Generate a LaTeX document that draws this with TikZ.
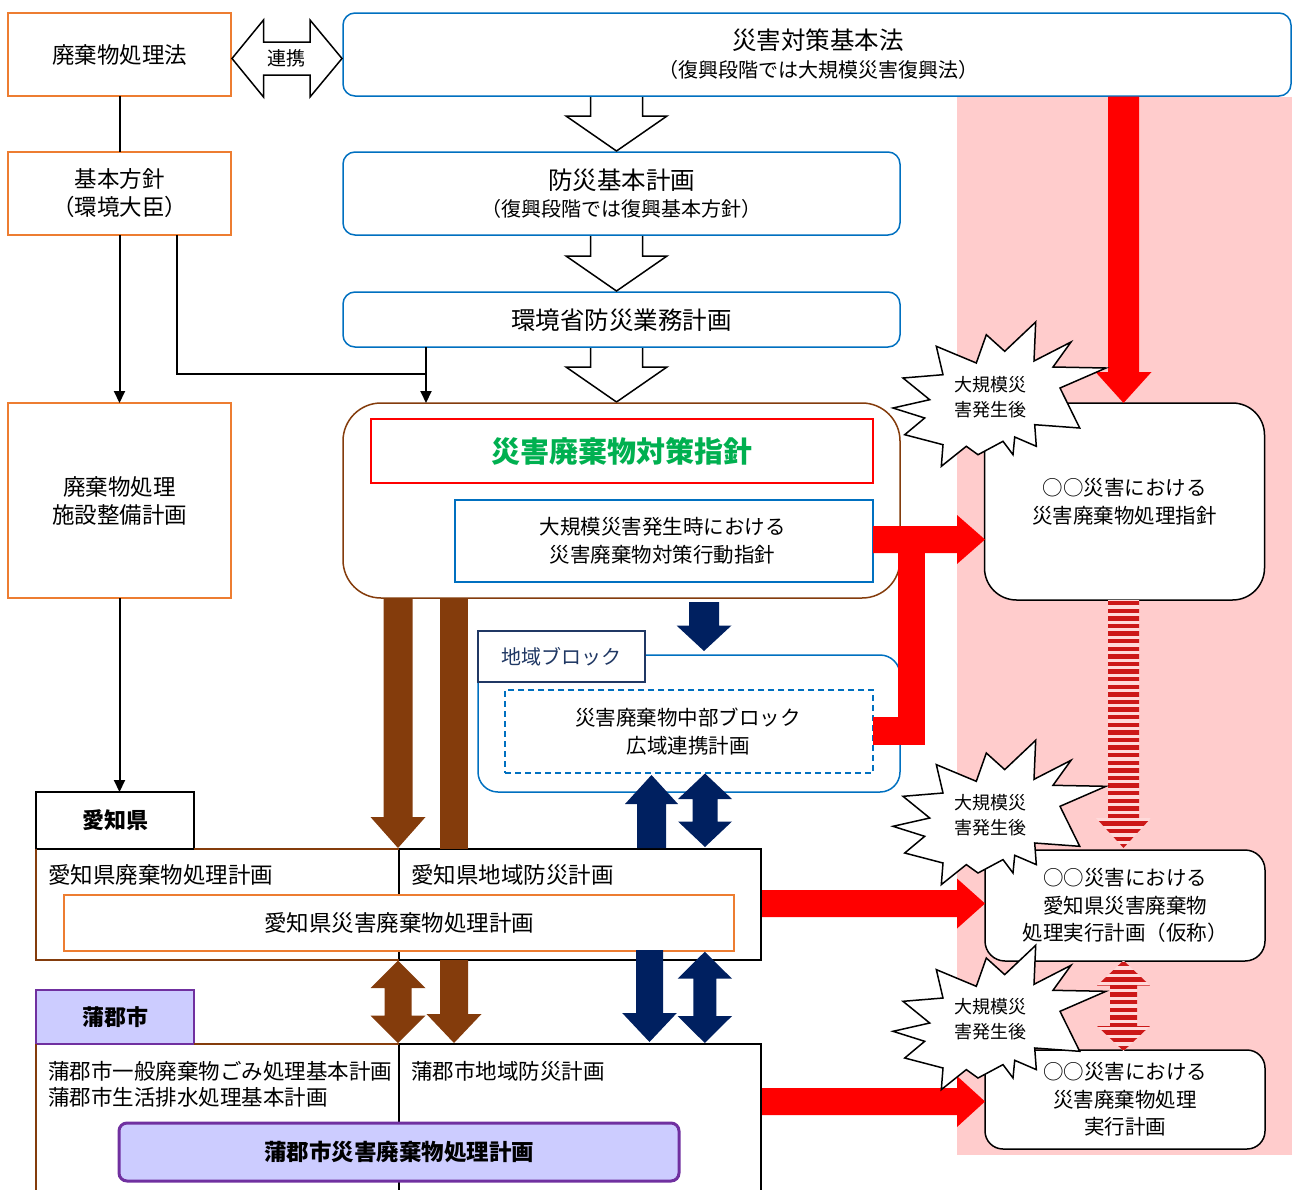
\documentclass[tikz,border=0pt]{standalone}
\usepackage{fontspec}
\setmainfont{Noto Sans CJK JP}
\usetikzlibrary{arrows.meta,calc}
\definecolor{cOrange}{HTML}{ED7D31}
\definecolor{cBlue}{HTML}{0070C0}
\definecolor{cBrown}{HTML}{843C0C}
\definecolor{cRed}{HTML}{FF0000}
\definecolor{cGreen}{HTML}{00B050}
\definecolor{cNavy}{HTML}{002060}
\definecolor{cNavyT}{HTML}{203864}
\definecolor{cPink}{HTML}{FFCCCC}
\definecolor{cLav}{HTML}{CCCCFF}
\definecolor{cPurple}{HTML}{7030A0}
\definecolor{cStripeD}{HTML}{CC1818}
\definecolor{cStripeL}{HTML}{FFDADA}
\newcommand\fsz[2]{\fontsize{#1}{#2}\selectfont}
% x, ytop, ytip, shaft half, head half, head length
\newcommand\ArrDn[6]{({#1-#4},{#2}) -- ({#1+#4},{#2}) -- ({#1+#4},{#3-#6}) -- ({#1+#5},{#3-#6}) -- ({#1},{#3}) -- ({#1-#5},{#3-#6}) -- ({#1-#4},{#3-#6}) -- cycle}
\newcommand\ArrDnO[6]{({#1-#4},{#2}) -- ({#1-#4},{#3-#6}) -- ({#1-#5},{#3-#6}) -- ({#1},{#3}) -- ({#1+#5},{#3-#6}) -- ({#1+#4},{#3-#6}) -- ({#1+#4},{#2})}
\newcommand\ArrUp[6]{({#1-#4},{#2}) -- ({#1+#4},{#2}) -- ({#1+#4},{#3+#6}) -- ({#1+#5},{#3+#6}) -- ({#1},{#3}) -- ({#1-#5},{#3+#6}) -- ({#1-#4},{#3+#6}) -- cycle}
\newcommand\ArrDbl[6]{({#1},{#2}) -- ({#1+#5},{#2+#6}) -- ({#1+#4},{#2+#6}) -- ({#1+#4},{#3-#6}) -- ({#1+#5},{#3-#6}) -- ({#1},{#3}) -- ({#1-#5},{#3-#6}) -- ({#1-#4},{#3-#6}) -- ({#1-#4},{#2+#6}) -- ({#1-#5},{#2+#6}) -- cycle}
% y, xstart, xtip, shaft half, head half, head length
\newcommand\ArrRt[6]{({#2},{#1-#4}) -- ({#3-#6},{#1-#4}) -- ({#3-#6},{#1-#5}) -- ({#3},{#1}) -- ({#3-#6},{#1+#5}) -- ({#3-#6},{#1+#4}) -- ({#2},{#1+#4}) -- cycle}
\newcommand\BurstPath{(45.7,-73) -- (44,-34) -- (81,-53) -- (63,-28) -- (116,-27) -- (70,-7) -- (89.7,33) -- (44.7,29.7) -- (46.3,51.3) -- (24.7,42) -- (23,59.7) -- (13,46.3) -- (-12,59.7) -- (-23.7,51.3) -- (-48.7,71.3) -- (-47,49.7) -- (-85.3,39.7) -- (-65.3,23) -- (-97,13) -- (-60.3,4.7) -- (-87,-17) -- (-47,-20.3) -- (-53.7,-48.7) -- (-13.7,-32) -- (-3.7,-60.3) -- (14.7,-43.7) -- cycle}
\begin{document}
\begin{tikzpicture}[x=1pt,y=-1pt,
  every node/.style={inner sep=0pt,outer sep=0pt},
  obox/.style={draw=cOrange,line width=1.5pt,fill=white,align=center,font=\fsz{22.5}{28}},
  bbox/.style={draw=cBlue,line width=1.5pt,rounded corners=12pt,fill=white},
  rbox/.style={draw=black,line width=1.5pt,fill=white,align=center,font=\fsz{20.5}{27.5}},
  conn/.style={line width=2pt,draw=black},
  arr/.style={conn,-{Triangle[length=12pt,width=11pt]}},
  hollowline/.style={draw=black,line width=1.5pt,line join=miter},
  burst/.style={draw=black,fill=white,line width=1.5pt,line join=miter},
  panel/.style={draw=black,line width=1.8pt},
  bpanel/.style={draw=cBrown,line width=1.8pt},
  striped/.style={path picture={
    \fill[cStripeL] (path picture bounding box.south west) rectangle (path picture bounding box.north east);
    \foreach \k in {0,...,40}{
      \fill[cStripeD] ([yshift={-\k*7.6pt-1.5pt}]path picture bounding box.north west) rectangle ([yshift={-\k*7.6pt-5.8pt}]path picture bounding box.north east);
    }}},
  title/.style={font=\fsz{24.5}{28}},
  sub/.style={font=\fsz{20}{22}},
  btxt/.style={font=\fsz{18}{25},align=center}
]
\useasboundingbox (0,0) rectangle (1295,1189);
\fill[cPink] (957,97) rectangle (1292,1155);

% left column
\node[obox,minimum width=223pt,minimum height=83pt] (haiki) at (119.5,54.5) {廃棄物処理法};
\node[obox,minimum width=223pt,minimum height=83pt] (kihon) at (119.5,193.5) {基本方針\\（環境大臣）};
\node[obox,minimum width=223pt,minimum height=195pt] (shisetsu) at (119.5,500.5) {廃棄物処理\\施設整備計画};

% top blue boxes
\node[bbox,minimum width=948pt,minimum height=83pt] (saitai) at (817,54.5) {};
\node[title] (saitaiT) at (818,40) {災害対策基本法};
\node[sub] (saitaiS) at (818,70) {（復興段階では大規模災害復興法）};
\node[bbox,minimum width=557pt,minimum height=83pt] (bousai) at (621.5,193.5) {};
\node[title] (bousaiT) at (621.5,180) {防災基本計画};
\node[sub] (bousaiS) at (621.5,209) {（復興段階では復興基本方針）};
\node[bbox,minimum width=557pt,minimum height=55pt] (kankyo) at (621.5,319.5) {};
\node[title] (kankyoT) at (621.5,320) {環境省防災業務計画};

% 連携 double arrow
\filldraw[fill=white,hollowline] (232,58.5) -- (263.5,20) -- (263.5,42) -- (310,42) -- (310,20) -- (342,58.5) -- (310,97) -- (310,75) -- (263.5,75) -- (263.5,97) -- cycle;
\node[font=\fsz{19}{19}] (renkei) at (286.5,58.5) {連携};

% hollow arrows
\fill[white] \ArrDn{616.5}{97.5}{151}{26}{50.5}{35};
\draw[hollowline] \ArrDnO{616.5}{97.2}{151}{26}{50.5}{35};
\fill[white] \ArrDn{616.5}{236.5}{291}{26}{50.5}{35};
\draw[hollowline] \ArrDnO{616.5}{236.2}{291}{26}{50.5}{35};
\fill[white] \ArrDn{616.5}{348.5}{402}{26}{50.5}{35};
\draw[hollowline] \ArrDnO{616.5}{348.2}{402}{26}{50.5}{35};

% main guideline box
\node[draw=cBrown,line width=1.5pt,rounded corners=38pt,fill=white,minimum width=557pt,minimum height=195pt] (main) at (621.5,500.5) {};
\node[draw=cRed,line width=1.5pt,fill=white,minimum width=502pt,minimum height=64pt,text=cGreen,font=\fsz{29}{32}\bfseries] (shishin) at (622,451) {災害廃棄物対策指針};
\node[draw=cBlue,line width=1.5pt,fill=white,minimum width=418pt,minimum height=82pt] (kodo) at (664,541) {};
\node[font=\fsz{20.5}{28},align=center] (kodoT) at (662.5,541) {大規模災害発生時における\\災害廃棄物対策行動指針};

% black connectors
\draw[conn] (haiki.south) -- (kihon.north);
\draw[arr] (kihon.south) -- (shisetsu.north);
\coordinate (jn) at (426,374);
\draw[conn] ([xshift=57pt]kihon.south) |- (jn);
\draw[arr] (kankyo.south -| jn) -- (main.north -| jn);

% right boxes
\node[rbox,rounded corners=32pt,minimum width=280pt,minimum height=197pt] (boxA) at (1124.5,501.5) {○○災害における\\災害廃棄物処理指針};
\node[rbox,rounded corners=20pt,minimum width=280pt,minimum height=111pt] (boxB) at (1125,905.5) {○○災害における\\愛知県災害廃棄物\\処理実行計画（仮称）};
\node[rbox,rounded corners=18pt,minimum width=280pt,minimum height=99pt] (boxC) at (1125,1099.5) {○○災害における\\災害廃棄物処理\\実行計画};

% regional block
\node[draw=cBlue,line width=1.5pt,rounded corners=20pt,fill=white,minimum width=422pt,minimum height=137pt] (block) at (689,723.5) {};
\node[draw=cNavyT,line width=1.5pt,fill=white,minimum width=167pt,minimum height=51pt,text=cNavyT,font=\fsz{20}{20}] (blockL) at (561.5,656.5) {地域ブロック};
\node[draw=cBlue,line width=1.5pt,dash pattern=on 6pt off 4pt,minimum width=368pt,minimum height=83pt] (chubu) at (689,731.5) {};
\node[font=\fsz{20.5}{28},align=center] (chubuT) at (688,732) {災害廃棄物中部ブロック\\広域連携計画};

% Aichi
\node[draw=black,line width=1.8pt,fill=white,minimum width=158pt,minimum height=57pt,font=\fsz{22}{22}\bfseries] (aichiL) at (115,820.5) {愛知県};
\draw[arr] (shisetsu.south) -- (shisetsu.south |- aichiL.north);
\node[panel,minimum width=362pt,minimum height=111pt] (aichiR) at (580,904.5) {};
\draw[bpanel] (aichiL.south east) -- (aichiR.north west);
\draw[bpanel] (aichiL.south west) -- (36,960) -- (aichiR.south west);
\node[font=\fsz{22.5}{22.5},anchor=west] (aichi1) at (48,875) {愛知県廃棄物処理計画};
\node[font=\fsz{22.5}{22.5},anchor=west] (aichi2) at (411,875) {愛知県地域防災計画};
\node[draw=cOrange,line width=1.5pt,fill=white,minimum width=670pt,minimum height=56pt,font=\fsz{22.5}{22.5}] (aichiP) at (399,923) {愛知県災害廃棄物処理計画};

% Gamagori
\node[draw=cPurple,line width=1.8pt,fill=cLav,minimum width=158pt,minimum height=54pt,font=\fsz{22}{22}\bfseries] (gamaL) at (115,1017) {蒲郡市};
\coordinate (gTL) at (399,1044);
\draw[panel] (399,1192) -- (gTL) -- (761,1044) -- (761,1192);
\draw[bpanel] (gamaL.south east) -- (gTL);
\draw[bpanel] (gamaL.south west) -- (36,1192);
\node[font=\fsz{21.5}{26},anchor=west] (gama1) at (48,1071) {蒲郡市一般廃棄物ごみ処理基本計画};
\node[font=\fsz{21.5}{26},anchor=west] (gama2) at (48,1097) {蒲郡市生活排水処理基本計画};
\node[font=\fsz{21.5}{26},anchor=west] (gama3) at (411,1071) {蒲郡市地域防災計画};
\node[draw=cPurple,line width=3pt,fill=cLav,rounded corners=8pt,minimum width=560pt,minimum height=58pt,font=\fsz{22.5}{22.5}\bfseries] (gamaP) at (399,1152) {蒲郡市災害廃棄物処理計画};

% red arrows
\fill[cRed] \ArrDn{1123.5}{96.5}{403}{15.5}{28}{31};
\fill[cRed] \ArrRt{539.5}{873}{985}{13.5}{24.5}{28};
\fill[cRed] (898,526) rectangle (925,745);
\fill[cRed] (873,717) rectangle (925,745);
\fill[cRed] \ArrRt{903.5}{762}{985}{13.5}{25}{28};
\fill[cRed] \ArrRt{1101.5}{762}{985}{13.5}{25.5}{28};

% striped arrows
\path[striped] \ArrDn{1123.5}{599.5}{848}{15.5}{27.5}{30};
\path[striped] \ArrDbl{1123.5}{960.5}{1051}{13.5}{26.5}{25};

% brown arrows
\fill[cBrown] \ArrDn{398}{598}{848}{14.5}{27.5}{31};
\fill[cBrown] (440,598) rectangle (468,849);
\fill[cBrown] \ArrDbl{398}{960.5}{1043}{13.5}{27.5}{27.5};
\fill[cBrown] \ArrDn{454}{960}{1043}{14}{27.5}{29};

% navy arrows
\fill[cNavy] \ArrDn{704}{602}{651}{15}{27.5}{25.5};
\fill[cNavy] \ArrUp{651.5}{848}{775}{14.5}{26.5}{29};
\fill[cNavy] \ArrDbl{705}{773.5}{847}{12.5}{27}{25.5};
\fill[cNavy] \ArrDn{649.5}{950}{1042}{13.5}{27.3}{29};
\fill[cNavy] \ArrDbl{704.8}{951.7}{1043}{11.5}{27.2}{27};

% bursts
\draw[burst,shift={(990,395)}] \BurstPath;
\node[btxt] (burst1) at (990.5,397.5) {大規模災\\害発生後};
\draw[burst,shift={(990,813.3)}] \BurstPath;
\node[btxt] (burst2) at (990.5,815.5) {大規模災\\害発生後};
\draw[burst,shift={(990,1018.3)}] \BurstPath;
\node[btxt] (burst3) at (990.5,1019) {大規模災\\害発生後};
\end{tikzpicture}
\end{document}
